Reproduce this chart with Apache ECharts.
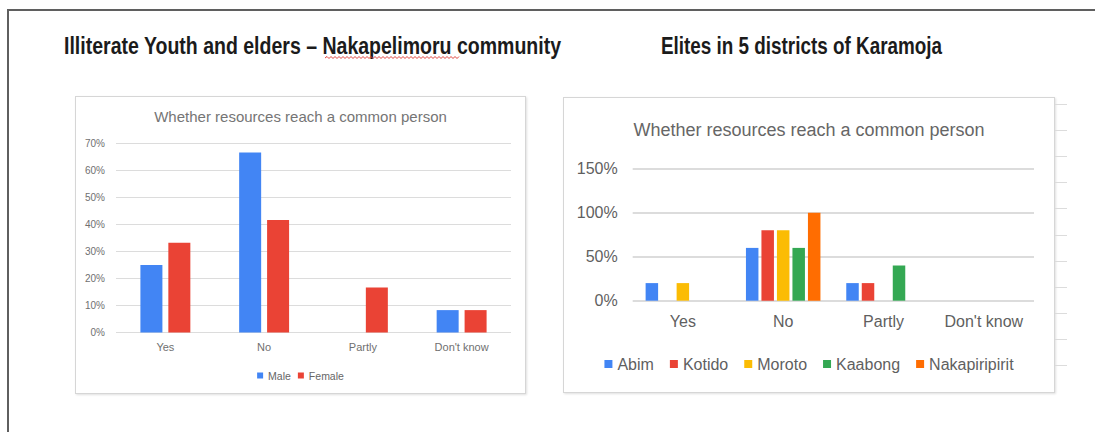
<!DOCTYPE html>
<html>
<head>
<meta charset="utf-8">
<script src="https://cdn.jsdelivr.net/npm/echarts@6/dist/echarts.min.js"></script>
<style>
  html, body { margin: 0; padding: 0; background: #fff; }
  #page { position: relative; width: 1095px; height: 432px; overflow: hidden; background: #fff; }
  #frameTop { position: absolute; left: 8px; top: 9px; width: 1100px; height: 2px; background: #5f5f5f; }
  #frameLeft { position: absolute; left: 7px; top: 9px; width: 2px; height: 430px; background: #5f5f5f; }
  .heading { position: absolute; top: 32px; font-family: "Liberation Sans", Arial, sans-serif;
             font-weight: bold; font-size: 23px; color: #1b1b1b; white-space: nowrap; line-height: 28px;
             transform-origin: 0 50%; }
  .box { position: absolute; background: #fff; border: 1px solid #d6d6d6; box-shadow: 1px 1px 2px rgba(0,0,0,0.12); box-sizing: border-box; }
  .tick { position: absolute; left: 1055px; width: 12px; height: 1px; background: #dcdcdc; }
  #rightEdge { position: absolute; left: 1053px; top: 97px; width: 2px; height: 293px; background: #e2e2e2; }
</style>
</head>
<body>
<div id="page">
  <div id="frameTop"></div>
  <div id="frameLeft"></div>
  <div class="heading" id="h1" data-width="497" style="left:64px">Illiterate Youth and elders – Nakapelimoru community</div>
  <div class="heading" id="h2" data-width="281" style="left:661px">Elites in 5 districts of Karamoja</div>
  <svg id="squiggle" style="position:absolute;left:0;top:0" width="1095" height="80"></svg>
  <div id="rightEdge"></div>
  <div class="box" id="leftChart" style="left:75px;top:96px;width:451px;height:298px"></div>
  <div class="box" id="rightChart" style="left:563px;top:97px;width:492px;height:296px"></div>
</div>
<script>
// Shared categories
const categories = ['Yes', 'No', 'Partly', "Don't know"];

// Illiterate youth and elders, Nakapelimoru (percent)
const maleShare = [25, 66.7, 0, 8.3];
const femaleShare = [33.3, 41.7, 16.7, 8.3];
const genderNames = ['Male', 'Female'];
const leftTicks = { max: 70, interval: 10 };

// Elites in 5 districts (percent)
const districts = ['Abim', 'Kotido', 'Moroto', 'Kaabong', 'Nakapiripirit'];
const abim = [20, 60, 20, 0];
const kotido = [0, 80, 20, 0];
const moroto = [20, 80, 0, 0];
const kaabong = [0, 60, 40, 0];
const nakapiripirit = [0, 100, 0, 0];
const rightTicks = { max: 150, interval: 50 };

const chartTitle = 'Whether resources reach a common person';
const palette = ['#4285F4', '#EA4335', '#FBBC04', '#34A853', '#FF6D01'];
const FONT = '"Liberation Sans", Arial, sans-serif';

// Headings use a condensed look: squeeze the bold face to its column width
document.querySelectorAll('.heading').forEach(el => {
  const w = el.getBoundingClientRect().width;
  el.style.transform = 'scaleX(' + (Number(el.dataset.width) / w).toFixed(4) + ')';
});

// Spell-check style wavy underline beneath the place name
(function () {
  const svg = document.getElementById('squiggle');
  let d = 'M325,58';
  for (let x = 325, up = true; x < 458; x += 2, up = !up) d += ' L' + (x + 2) + ',' + (up ? 56.5 : 58.5);
  const p = document.createElementNS('http://www.w3.org/2000/svg', 'path');
  p.setAttribute('d', d);
  p.setAttribute('fill', 'none');
  p.setAttribute('stroke', '#e0413a');
  p.setAttribute('stroke-width', '1');
  svg.appendChild(p);
})();

// Ruler ticks along the right edge of the page
(function () {
  const page = document.getElementById('page');
  for (let i = 0; i < 11; i++) {
    const t = document.createElement('div');
    t.className = 'tick';
    t.style.top = (104 + i * 26.1).toFixed(1) + 'px';
    page.appendChild(t);
  }
})();

// Left chart
const left = echarts.init(document.getElementById('leftChart'), null, { renderer: 'svg' });
left.setOption({
  animation: false,
  color: palette,
  title: {
    text: chartTitle, left: 'center', top: 7,
    textStyle: { fontFamily: FONT, fontSize: 15, fontWeight: 'normal', color: '#757575' }
  },
  legend: {
    data: genderNames, left: 'center', top: 268, itemWidth: 6, itemHeight: 6, itemGap: 7,
    icon: 'rect', textStyle: { fontFamily: FONT, fontSize: 10.5, color: '#666' }
  },
  grid: { left: 40, right: 14, top: 46.7, bottom: 60.5 },
  xAxis: {
    type: 'category', data: categories,
    axisLine: { show: false }, axisTick: { show: false },
    axisLabel: { interval: 0, fontFamily: FONT, fontSize: 11, color: '#707070', margin: 9 }
  },
  yAxis: {
    type: 'value', min: 0, max: leftTicks.max, interval: leftTicks.interval,
    axisLabel: { formatter: '{value}%', fontFamily: FONT, fontSize: 10, color: '#707070', margin: 11 },
    splitLine: { lineStyle: { color: '#dcdcdc', width: 1 } }
  },
  series: [
    { name: genderNames[0], type: 'bar', data: maleShare, barWidth: 22, barGap: '27%' },
    { name: genderNames[1], type: 'bar', data: femaleShare, barWidth: 22, barGap: '27%' }
  ]
});

// Right chart
const districtValues = [abim, kotido, moroto, kaabong, nakapiripirit];
const right = echarts.init(document.getElementById('rightChart'), null, { renderer: 'svg' });
right.setOption({
  animation: false,
  color: palette,
  title: {
    text: chartTitle, left: 'center', top: 18,
    textStyle: { fontFamily: FONT, fontSize: 18, fontWeight: 'normal', color: '#666' }
  },
  legend: {
    data: districts, left: 'center', top: 253, itemWidth: 8, itemHeight: 8, itemGap: 16,
    icon: 'rect', textStyle: { fontFamily: FONT, fontSize: 16, color: '#5f5f5f' }
  },
  grid: { left: 68.7, right: 20, top: 70.7, bottom: 91.3 },
  xAxis: {
    type: 'category', data: categories,
    axisLine: { show: false }, axisTick: { show: false },
    axisLabel: { interval: 0, fontFamily: FONT, fontSize: 16, color: '#5f5f5f', margin: 13 }
  },
  yAxis: {
    type: 'value', min: 0, max: rightTicks.max, interval: rightTicks.interval,
    axisLabel: { formatter: '{value}%', fontFamily: FONT, fontSize: 16, color: '#5f5f5f', margin: 15 },
    splitLine: { lineStyle: { color: '#d0d0d0', width: 1.5 } }
  },
  series: districts.map((name, i) => ({
    name, type: 'bar', data: districtValues[i], barWidth: 12.5, barGap: '24%'
  }))
});
</script>
</body>
</html>
